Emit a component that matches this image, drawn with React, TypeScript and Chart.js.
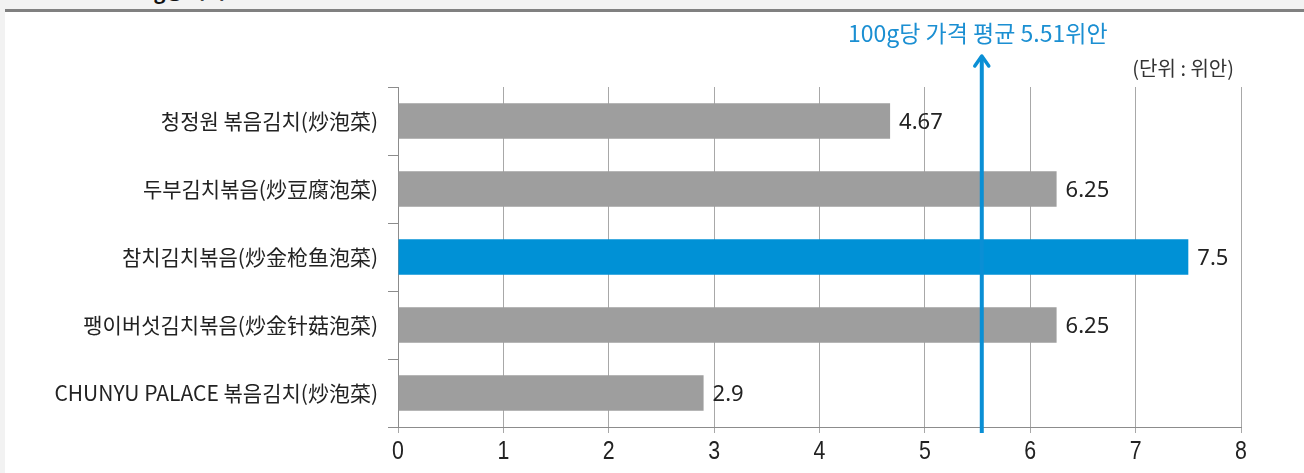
import React, { useEffect, useRef } from "react";
import { Chart, registerables } from "chart.js";

Chart.register(...registerables);

const categories = [
  "청정원 볶음김치(炒泡菜)",
  "두부김치볶음(炒豆腐泡菜)",
  "참치김치볶음(炒金枪鱼泡菜)",
  "팽이버섯김치볶음(炒金针菇泡菜)",
  "CHUNYU PALACE 볶음김치(炒泡菜)",
];
const prices = [4.67, 6.25, 7.5, 6.25, 2.9];
const valueLabels = ["4.67", "6.25", "7.5", "6.25", "2.9"];
const highlightIndex = 2;
const averageMarker = 5.54;
const averageText = "100g당 가격 평균 5.51위안";
const unitText = "(단위 : 위안)";
const xMin = 0;
const xMax = 8;

const GRAY = "#9e9e9e";
const BLUE = "#0091d6";
const CANVAS_TOP = 12;

export default function App() {
  const ref = useRef<HTMLCanvasElement | null>(null);

  useEffect(() => {
    if (!ref.current) return;
    const overlay = {
      id: "overlay",
      afterDatasetsDraw(chart: any) {
        const ctx = chart.ctx;
        const meta = chart.getDatasetMeta(0);
        ctx.save();
        ctx.font = "22px 'Noto Sans', sans-serif";
        ctx.fillStyle = "#222";
        ctx.textAlign = "left";
        ctx.textBaseline = "middle";
        meta.data.forEach((bar: any, i: number) => {
          ctx.fillText(valueLabels[i], bar.x + 9, bar.y + 2);
        });
        ctx.restore();
      },
      afterDraw(chart: any) {
        const ctx = chart.ctx;
        const xs = chart.scales.x;
        ctx.save();
        ctx.fillStyle = "#222";
        ctx.font = "26px 'Liberation Sans', sans-serif";
        ctx.textAlign = "center";
        ctx.textBaseline = "middle";
        const ly = 452 - CANVAS_TOP;
        xs.ticks.forEach((t: any, i: number) => {
          const px = xs.getPixelForTick(i);
          ctx.save();
          ctx.translate(px, ly);
          ctx.scale(0.82, 1);
          ctx.fillText(String(t.value), 0, 0);
          ctx.restore();
        });
        ctx.restore();

        const x = xs.getPixelForValue(averageMarker);
        const bottom = chart.chartArea.bottom + 6;
        const tip = 55 - CANVAS_TOP;
        ctx.save();
        ctx.strokeStyle = "#0a8fd5";
        ctx.lineWidth = 4;
        ctx.beginPath();
        ctx.moveTo(x, bottom);
        ctx.lineTo(x, tip + 2);
        ctx.stroke();
        ctx.lineWidth = 3.5;
        ctx.lineCap = "round";
        ctx.lineJoin = "round";
        ctx.beginPath();
        ctx.moveTo(x - 7, tip + 11);
        ctx.lineTo(x, tip + 1);
        ctx.lineTo(x + 7, tip + 11);
        ctx.stroke();
        ctx.fillStyle = "#1b8fd2";
        ctx.font = "23px 'Noto Sans CJK KR', sans-serif";
        ctx.textAlign = "center";
        ctx.textBaseline = "middle";
        ctx.fillText(averageText, x - 4, 33 - CANVAS_TOP);
        ctx.fillStyle = "#333";
        ctx.font = "20px 'Noto Sans CJK KR', sans-serif";
        ctx.textAlign = "right";
        ctx.fillText(unitText, 1234, 68 - CANVAS_TOP);
        ctx.restore();
      },
    };

    const chart = new Chart(ref.current, {
      type: "bar",
      data: {
        labels: categories,
        datasets: [
          {
            data: prices,
            backgroundColor: prices.map((_, i) => (i === highlightIndex ? BLUE : GRAY)),
            barPercentage: 0.52,
            categoryPercentage: 1,
          },
        ],
      },
      options: {
        indexAxis: "y",
        animation: false,
        responsive: false,
        devicePixelRatio: 1,
        layout: { padding: { top: 75, right: 63, left: 0, bottom: 0 } },
        plugins: { legend: { display: false }, tooltip: { enabled: false } },
        scales: {
          x: {
            min: xMin,
            max: xMax,
            ticks: {
              stepSize: 1,
              display: false,
            },
            grid: { color: "#a8a8a8", tickLength: 6, lineWidth: 1 },
            border: { display: true, color: "#8c8c8c" },
            afterFit: (s: any) => {
              s.height = 46;
            },
          },
          y: {
            ticks: {
              color: "#222",
              font: { family: "'Noto Sans CJK KR', sans-serif", size: 21 },
              padding: 10,
            },
            grid: { offset: true, drawOnChartArea: false, tickLength: 10, color: "#8c8c8c" },
            border: { display: true, color: "#8c8c8c" },
            afterFit: (s: any) => {
              s.width = 398;
            },
          },
        },
      },
      plugins: [overlay],
    } as any);
    return () => chart.destroy();
  }, []);

  return (
    <div
      style={{
        position: "fixed",
        left: 0,
        top: 0,
        width: 1304,
        height: 473,
        background: "#f2f2f2",
        overflow: "hidden",
      }}
    >
      <div
        style={{
          position: "absolute",
          left: 118,
          top: -24,
          height: 30,
          whiteSpace: "nowrap",
          fontFamily: "'Noto Sans CJK KR', sans-serif",
          fontWeight: 700,
          fontSize: 20,
          color: "#111",
          lineHeight: "30px",
        }}
      >
        100g당 가격
      </div>
      <div
        style={{
          position: "absolute",
          left: 5,
          top: 9,
          right: 0,
          height: 3,
          background: "#808080",
        }}
      />
      <div
        style={{
          position: "absolute",
          left: 5,
          top: CANVAS_TOP,
          right: 0,
          bottom: 0,
          background: "#ffffff",
        }}
      />
      <canvas
        ref={ref}
        width={1304}
        height={461}
        style={{ position: "absolute", left: 0, top: CANVAS_TOP, width: 1304, height: 461 }}
      />
    </div>
  );
}
